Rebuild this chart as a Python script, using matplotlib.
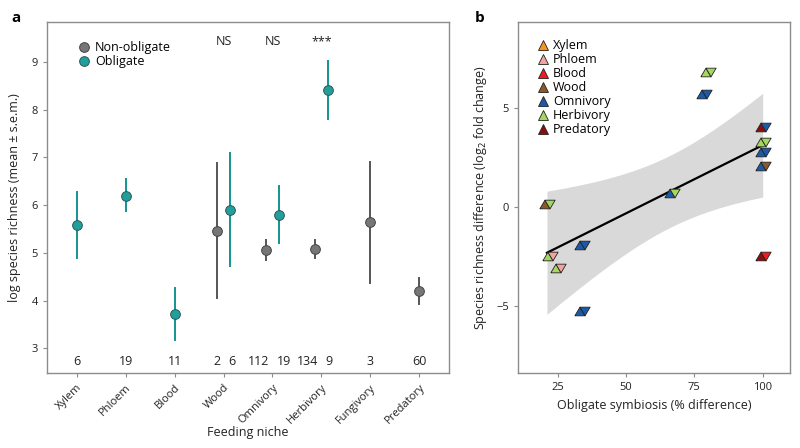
import numpy as np
import matplotlib
matplotlib.use("Agg")
import matplotlib.pyplot as plt
from matplotlib.lines import Line2D

plt.rcParams['font.family'] = ['Open Sans', 'DejaVu Sans']

# ---------------- Panel a data ----------------
niches = ["Xylem", "Phloem", "Blood", "Wood", "Omnivory", "Herbivory", "Fungivory", "Predatory"]
# Non-obligate (None = absent)
nonob_mean = [None, None, None, 5.46, 5.06, 5.09, 5.64, 4.20]
nonob_lo = [None, None, None, 4.05, 4.85, 4.90, 4.37, 3.93]
nonob_hi = [None, None, None, 6.88, 5.28, 5.28, 6.91, 4.47]
nonob_n = [None, None, None, "2", "112", "134", "3", "60"]
# Obligate
ob_mean = [5.58, 6.20, 3.72, 5.90, 5.80, 8.41, None, None]
ob_lo = [4.90, 5.88, 3.18, 4.72, 5.20, 7.80, None, None]
ob_hi = [6.27, 6.55, 4.26, 7.10, 6.40, 9.02, None, None]
ob_n = ["6", "19", "11", "6", "19", "9", None, None]
signif = {"Wood": "NS", "Omnivory": "NS", "Herbivory": "***"}

# ---------------- Panel b data ----------------
b_x = [21, 66.7, 79.8, 78.4, 100, 100, 100, 100, 100, 22, 25, 33.8, 33.8]
b_y = [0.15, 0.7, 6.8, 5.7, 4.05, 3.3, 2.8, 2.07, -2.5, -2.47, -3.1, -1.9, -5.25]
b_up = ["Wood", "Omnivory", "Herbivory", "Omnivory", "Predatory", "Herbivory", "Omnivory",
        "Omnivory", "Predatory", "Herbivory", "Herbivory", "Omnivory", "Omnivory"]
b_down = ["Herbivory", "Herbivory", "Herbivory", "Omnivory", "Omnivory", "Herbivory", "Omnivory",
          "Wood", "Blood", "Phloem", "Phloem", "Omnivory", "Omnivory"]
legend_niches = ["Xylem", "Phloem", "Blood", "Wood", "Omnivory", "Herbivory", "Predatory"]
niche_colors = {"Xylem": "#f7941d", "Phloem": "#f4a3a3", "Blood": "#ee1c24", "Wood": "#8b5a2b",
                "Omnivory": "#1c5aa8", "Herbivory": "#a5d65f", "Predatory": "#8b0e0e"}

GREY = "#767676"
GREY_LINE = "#555555"
TEAL = "#20a09c"
TEAL_LINE = "#139490"
FRAME = "#8c8c8c"
TXT = "#222222"

fig = plt.figure(figsize=(8, 4.48), dpi=100)
axa = fig.add_axes([0.059, 0.167, 0.502, 0.784])
axb = fig.add_axes([0.6475, 0.167, 0.34, 0.784])

for ax in (axa, axb):
    for s in ax.spines.values():
        s.set_color(FRAME)
        s.set_linewidth(1.0)
    ax.tick_params(colors=FRAME, labelcolor=TXT, labelsize=8, length=3, width=0.8)

# ---- Panel a ----
xs = np.arange(len(niches))
off = 0.13
MS = 7
for i, n in enumerate(niches):
    both = nonob_mean[i] is not None and ob_mean[i] is not None
    if nonob_mean[i] is not None:
        xp = i - off if both else i
        axa.plot([xp, xp], [nonob_lo[i], nonob_hi[i]], color=GREY_LINE, lw=1.4, zorder=2)
        axa.plot(xp, nonob_mean[i], 'o', ms=MS, mfc=GREY, mec="#444444", mew=0.7, zorder=3)
        if both:
            axa.text(xp + 0.07, 2.73, nonob_n[i], ha='right', va='center', fontsize=9, color=TXT)
        else:
            axa.text(xp, 2.73, nonob_n[i], ha='center', va='center', fontsize=9, color=TXT)
    if ob_mean[i] is not None:
        xp = i + off if both else i
        axa.plot([xp, xp], [ob_lo[i], ob_hi[i]], color=TEAL_LINE, lw=1.4, zorder=2)
        axa.plot(xp, ob_mean[i], 'o', ms=MS, mfc=TEAL, mec="#335555", mew=0.7, zorder=3)
        if both:
            axa.text(xp - 0.04, 2.73, ob_n[i], ha='left', va='center', fontsize=9, color=TXT)
        else:
            axa.text(xp, 2.73, ob_n[i], ha='center', va='center', fontsize=9, color=TXT)
    if n in signif:
        axa.text(i, 9.42, signif[n], ha='center', va='center', fontsize=9, color=TXT)

axa.set_xlim(-0.6, 7.6)
axa.set_ylim(2.48, 9.84)
axa.set_yticks([3, 4, 5, 6, 7, 8, 9])
axa.set_xticks(xs)
axa.set_xticklabels(niches, rotation=45, ha='right', rotation_mode='anchor', fontsize=8)
axa.set_ylabel("log species richness (mean ± s.e.m.)", fontsize=9, color=TXT, labelpad=8)
axa.set_xlabel("Feeding niche", fontsize=9, color=TXT, labelpad=0)
h1 = Line2D([], [], ls='none', marker='o', ms=MS, mfc=GREY, mec="#444444", mew=0.7)
h2 = Line2D([], [], ls='none', marker='o', ms=MS, mfc=TEAL, mec="#335555", mew=0.7)
axa.legend([h1, h2], ["Non-obligate", "Obligate"], loc='upper left', bbox_to_anchor=(0.06, 0.96),
           frameon=False, fontsize=9, handletextpad=0.3, labelspacing=0.1, borderaxespad=0,
           handlelength=1.2)

# ---- Panel b ----
bx = np.array(b_x, dtype=float)
by = np.array(b_y, dtype=float)
slope, intercept = np.polyfit(bx, by, 1)
n = len(bx)
resid = by - (intercept + slope * bx)
s = np.sqrt(np.sum(resid ** 2) / (n - 2))
sxx = np.sum((bx - bx.mean()) ** 2)
tval = 2.201  # t(0.975, df=11)
xg = np.linspace(bx.min(), bx.max(), 200)
yg = intercept + slope * xg
se = s * np.sqrt(1.0 / n + (xg - bx.mean()) ** 2 / sxx)
axb.fill_between(xg, yg - tval * se, yg + tval * se, color="#d9d9d9", lw=0, zorder=1)
axb.plot(xg, yg, color="black", lw=1.6, zorder=2)

h = 0.85
up_marker = [(-1.5, -h), (0.5, -h), (-0.5, h), (-1.5, -h)]
down_marker = [(-0.5, h), (1.5, h), (0.5, -h), (-0.5, h)]
ms_b = 11
for xv, yv, u, d in zip(b_x, b_y, b_up, b_down):
    axb.plot(xv, yv, ls='none', marker=up_marker, ms=ms_b, mfc=niche_colors[u], mec="#222222",
             mew=0.6, zorder=3)
    axb.plot(xv, yv, ls='none', marker=down_marker, ms=ms_b, mfc=niche_colors[d], mec="#222222",
             mew=0.6, zorder=3)

axb.set_xlim(10.4, 110)
axb.set_ylim(-8.4, 9.35)
axb.set_xticks([25, 50, 75, 100])
axb.set_yticks([-5, 0, 5])
axb.set_xlabel("Obligate symbiosis (% difference)", fontsize=9, color=TXT, labelpad=4)
axb.set_ylabel("Species richness difference (log$_2$ fold change)", fontsize=9, color=TXT, labelpad=5)
handles = [Line2D([], [], ls='none', marker='^', ms=7.5, mfc=niche_colors[k], mec="#222222", mew=0.6)
           for k in legend_niches]
axb.legend(handles, legend_niches, loc='upper left', bbox_to_anchor=(0.05, 0.965), frameon=False,
           fontsize=9, handletextpad=0.3, labelspacing=0.08, borderaxespad=0, handlelength=1.0)

fig.text(0.014, 0.96, "a", fontsize=11, fontweight='bold', color="black", va='center')
fig.text(0.594, 0.96, "b", fontsize=11, fontweight='bold', color="black", va='center')

fig.savefig("out.png", dpi=100)
